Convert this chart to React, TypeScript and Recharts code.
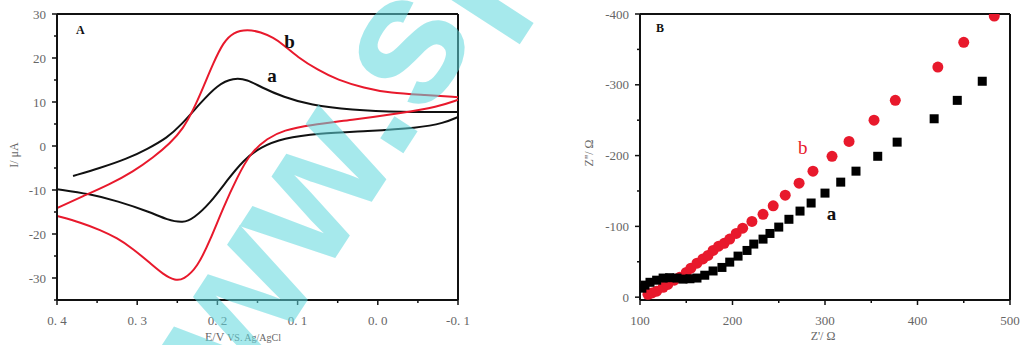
import React from 'react';
import {
  LineChart, Line, ScatterChart, Scatter, XAxis, YAxis, ReferenceLine, ReferenceDot, Label,
} from 'recharts';

// panel A: cyclic voltammograms, potential (V) vs current (uA); each loop split in two branches
const eBUpper = [-0.1, -0.0575, -0.016, 0.0175, 0.05, 0.075, 0.1, 0.1175, 0.13, 0.146, 0.1625, 0.18, 0.1925, 0.205, 0.2175, 0.23, 0.2425, 0.259, 0.28, 0.305, 0.334, 0.3675, 0.4];
const iBUpper = [11.1, 11.6, 12.0, 13.2, 15.0, 17.3, 20.2, 23.0, 24.6, 25.9, 26.5, 25.9, 23.6, 18.9, 13.4, 8.2, 4.0, 0.6, -2.6, -5.8, -8.7, -11.4, -14.1];
const eBLower = [-0.1, -0.075, -0.029, 0.034, 0.084, 0.1175, 0.1375, 0.159, 0.175, 0.1925, 0.209, 0.225, 0.2425, 0.2525, 0.2675, 0.284, 0.305, 0.325, 0.346, 0.37, 0.4];
const iBLower = [10.5, 8.9, 7.5, 5.9, 4.8, 3.6, 1.8, -1.6, -7.0, -13.9, -21.4, -27.6, -30.4, -30.6, -29.2, -26.6, -23.4, -20.9, -19.1, -17.4, -15.9];

const eAUpper = [-0.1, -0.029, 0.034, 0.084, 0.1175, 0.146, 0.1625, 0.18, 0.2, 0.221, 0.246, 0.2625, 0.2875, 0.3125, 0.346, 0.38];
const iAUpper = [7.7, 7.7, 8.2, 9.3, 11.1, 13.4, 15.1, 15.5, 13.9, 9.8, 4.6, 1.9, -0.7, -2.9, -5.0, -6.8];
const eALower = [-0.1, -0.0825, -0.05, 0.0125, 0.075, 0.1175, 0.146, 0.1675, 0.1875, 0.209, 0.23, 0.2425, 0.2625, 0.284, 0.325, 0.359, 0.4];
const iALower = [6.6, 5.2, 4.1, 3.4, 2.9, 1.8, -0.2, -3.2, -7.7, -13.0, -16.5, -17.5, -16.8, -15.0, -12.5, -10.9, -9.8];

// panel B: Nyquist plot, Z' and -Z'' in ohm
const zReB = [108.6, 113, 118, 125, 130, 137, 143, 150, 155, 161.6, 168, 173.5, 179, 185, 191, 197, 204, 211, 221, 233, 244, 257, 272, 287, 307.6, 326, 353, 376, 422, 450, 483];
const zImB = [4, 6, 8.5, 14, 18, 24, 28, 35, 41, 48, 54, 59, 66, 72, 76, 82, 90, 97.5, 107, 117, 129, 144, 161, 178, 199, 220, 250, 278, 325, 360, 397];
const zReA = [102, 105.4, 110.8, 118, 125, 132, 140, 146.5, 154, 161.6, 170, 179, 188.6, 197, 206, 215.7, 223, 233, 240.5, 250, 261, 273, 285, 300, 317, 333.5, 357, 378, 418, 443, 470];
const zImA = [12.7, 17, 21, 24, 27, 27.5, 27, 25.5, 26, 27, 31, 37, 42, 49.5, 58, 66, 75, 82, 90, 99, 110, 121.6, 133, 147, 162.5, 178, 199, 219, 252, 278, 305];

const cvTicksX = [-0.1, -0.05, 0, 0.05, 0.1, 0.15, 0.2, 0.25, 0.3, 0.35, 0.4];
const cvTicksY = [-35, -30, -25, -20, -15, -10, -5, 0, 5, 10, 15, 20, 25, 30];
const eisTicksX = [100, 150, 200, 250, 300, 350, 400, 450, 500];
const eisTicksY = [0, 50, 100, 150, 200, 250, 300, 350, 400];

const RED = '#e8192c';
const SERIF = '"Liberation Serif", "Times New Roman", serif';
const TICK_COLOR = '#666';

const zip = (xs: number[], ys: number[], kx: string, ky: string) => xs.map((v, i) => ({ [kx]: v, [ky]: ys[i] }));

const fmtE = (v: number) => `${v < -1e-9 ? '-' : ''}0. ${Math.round(Math.abs(v) * 10)}`;
const fmtZi = (v: number) => (v === 0 ? '0' : `-${v}`);

function makeTick(orient: 'bottom' | 'left', isMajor: (v: number) => boolean, fmt: (v: number) => string) {
  return (props: any) => {
    const { x, y, payload } = props;
    const v = payload.value;
    const major = isMajor(v);
    const len = major ? 5 : 3;
    if (orient === 'bottom') {
      return (
        <g>
          <line x1={x} x2={x} y1={y} y2={y + len} stroke="#111" strokeWidth={1.5}/>
          {major && <text x={x} y={y + 25} textAnchor="middle" fontSize={13} fontFamily={SERIF} fill={TICK_COLOR}>{fmt(v)}</text>}
        </g>
      );
    }
    return (
      <g>
        <line x1={x} x2={x - len} y1={y} y2={y} stroke="#111" strokeWidth={1.5}/>
        {major && <text x={x - 11} y={y + 4.5} textAnchor="end" fontSize={13} fontFamily={SERIF} fill={TICK_COLOR}>{fmt(v)}</text>}
      </g>
    );
  };
}

const CircleDot = (p: any) => <circle cx={p.cx} cy={p.cy} r={5.5} fill={RED}/>;
const SquareDot = (p: any) => <rect x={p.cx - 4.5} y={p.cy - 4.5} width={9} height={9} fill="#000"/>;

function PanelA() {
  const axisLine = { stroke: '#111', strokeWidth: 2 };
  const isMajorE = (v: number) => Math.round(v * 100) % 10 === 0;
  const isMajorI = (v: number) => v % 10 === 0;
  return (
    <LineChart width={480} height={345} margin={{ top: 14, right: 22, left: 0, bottom: 0 }}>
      <XAxis type="number" dataKey="e" domain={[-0.1, 0.4]} reversed ticks={cvTicksX} interval={0}
             height={45} tickSize={0} tickMargin={0} tickLine={false} axisLine={axisLine}
             tick={makeTick('bottom', isMajorE, fmtE)} allowDataOverflow/>
      <YAxis type="number" domain={[-35, 30]} ticks={cvTicksY} interval={0} width={57}
             tickSize={0} tickMargin={0} tickLine={false} axisLine={axisLine}
             tick={makeTick('left', isMajorI, (v) => String(v))} allowDataOverflow/>
      <ReferenceLine y={30} stroke="#111" strokeWidth={2}/>
      <ReferenceLine x={-0.1} stroke="#111" strokeWidth={2}/>
      <Line data={zip(eAUpper, iAUpper, 'e', 'i')} dataKey="i" type="basis" stroke="#111" strokeWidth={2} dot={false} isAnimationActive={false}/>
      <Line data={zip(eALower, iALower, 'e', 'i')} dataKey="i" type="basis" stroke="#111" strokeWidth={2} dot={false} isAnimationActive={false}/>
      <Line data={zip(eBUpper, iBUpper, 'e', 'i')} dataKey="i" type="basis" stroke={RED} strokeWidth={2} dot={false} isAnimationActive={false}/>
      <Line data={zip(eBLower, iBLower, 'e', 'i')} dataKey="i" type="basis" stroke={RED} strokeWidth={2} dot={false} isAnimationActive={false}/>
      <ReferenceDot x={0.371} y={26.4} r={0} stroke="none" fill="none">
        <Label value="A" position="center" fontSize={12} fontWeight="bold" fontFamily={SERIF} fill="#111"/>
      </ReferenceDot>
      <ReferenceDot x={0.11} y={23.8} r={0} stroke="none" fill="none">
        <Label value="b" position="center" fontSize={19} fontWeight="bold" fontFamily={SERIF} fill="#111"/>
      </ReferenceDot>
      <ReferenceDot x={0.132} y={16.0} r={0} stroke="none" fill="none">
        <Label value="a" position="center" fontSize={19} fontWeight="bold" fontFamily={SERIF} fill="#111"/>
      </ReferenceDot>
    </LineChart>
  );
}

function PanelB() {
  const axisLine = { stroke: '#111', strokeWidth: 2 };
  const isMajor = (v: number) => v % 100 === 0;
  return (
    <ScatterChart width={463} height={345} margin={{ top: 14, right: 13, left: 0, bottom: 0 }}>
      <XAxis type="number" dataKey="x" domain={[100, 500]} ticks={eisTicksX} interval={0}
             height={45} tickSize={0} tickMargin={0} tickLine={false} axisLine={axisLine}
             tick={makeTick('bottom', isMajor, (v) => String(v))} allowDataOverflow/>
      <YAxis type="number" dataKey="y" domain={[-4, 400]} ticks={eisTicksY} interval={0} width={80}
             tickSize={0} tickMargin={0} tickLine={false} axisLine={axisLine}
             tick={makeTick('left', isMajor, fmtZi)} allowDataOverflow/>
      <ReferenceLine y={400} stroke="#111" strokeWidth={2}/>
      <ReferenceLine x={500} stroke="#111" strokeWidth={2}/>
      <Scatter data={zip(zReB, zImB, 'x', 'y')} shape={CircleDot} isAnimationActive={false}/>
      <Scatter data={zip(zReA, zImA, 'x', 'y')} shape={SquareDot} isAnimationActive={false}/>
      <ReferenceDot x={121.6} y={381} r={0} stroke="none" fill="none">
        <Label value="B" position="center" fontSize={12} fontWeight="bold" fontFamily={SERIF} fill="#111"/>
      </ReferenceDot>
      <ReferenceDot x={276} y={212} r={0} stroke="none" fill="none">
        <Label value="b" position="center" fontSize={19} fontFamily={SERIF} fill={RED}/>
      </ReferenceDot>
      <ReferenceDot x={307} y={118} r={0} stroke="none" fill="none">
        <Label value="a" position="center" fontSize={19} fontWeight="bold" fontFamily={SERIF} fill="#111"/>
      </ReferenceDot>
    </ScatterChart>
  );
}

export default function App() {
  return (
    <div style={{ position: 'absolute', left: 0, top: 0, width: 1023, height: 345, background: '#fff', overflow: 'hidden' }}>
      <div style={{ position: 'absolute', left: 0, top: 0 }}><PanelA/></div>
      <div style={{ position: 'absolute', left: 560, top: 0 }}><PanelB/></div>
      <svg width={1023} height={345} style={{ position: 'absolute', left: 0, top: 0, pointerEvents: 'none' }}>
        <text x={15} y={155} transform="rotate(-90 15 155)" textAnchor="middle" dominantBaseline="middle" fontSize={12} fontFamily={SERIF} fill={TICK_COLOR}>I/ μA</text>
        <text x={205} y={341} fontSize={12} fontFamily={SERIF} fill={TICK_COLOR}>E/V <tspan fontSize={10}>VS. Ag/AgCl</tspan></text>
        <text x={590} y={153} transform="rotate(-90 590 153)" textAnchor="middle" dominantBaseline="middle" fontSize={12} fontFamily={SERIF} fill={TICK_COLOR}>Z''/ Ω</text>
        <text x={823} y={340} textAnchor="middle" fontSize={12} fontFamily={SERIF} fill={TICK_COLOR}>Z'/ Ω</text>
        <text x={165} y={520} transform="rotate(-57 165 520)" fontSize={185} fontWeight="bold" fontFamily='"Liberation Sans", Arial, sans-serif' fill="#5fd8de" opacity={0.55}>www.sp</text>
      </svg>
    </div>
  );
}
